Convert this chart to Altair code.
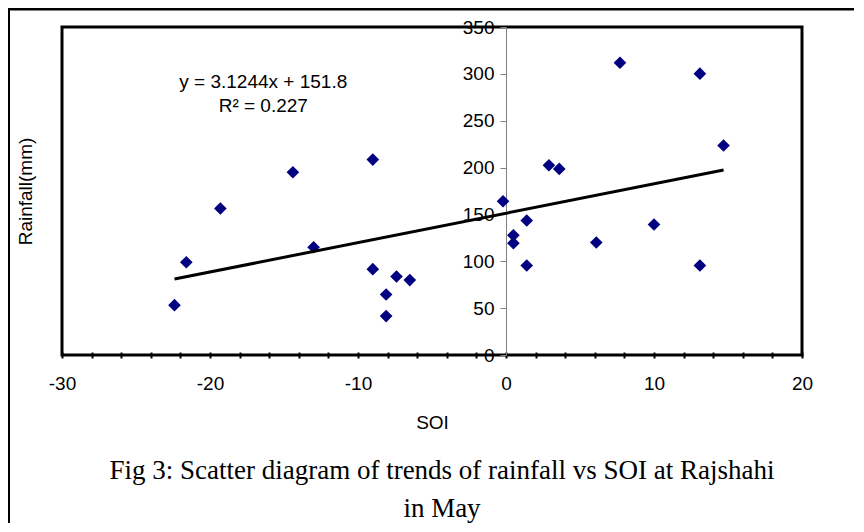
import altair as alt
import pandas as pd

# ---- data ----
soi = [-22.4, -21.6, -19.3, -14.4, -13.0, -9.0, -9.0, -8.1, -8.1, -7.4, -6.5,
       -0.2, 0.5, 0.5, 1.4, 1.4, 2.9, 3.6, 6.1, 7.7, 10.0, 13.1, 13.1, 14.7]
rain = [53.2, 99.0, 156.3, 195.0, 115.0, 208.5, 91.6, 64.6, 41.5, 83.8, 79.9,
        164.1, 127.8, 119.3, 143.5, 95.5, 202.5, 198.6, 120.0, 311.9, 139.2,
        300.2, 95.5, 223.5]
x_ticks = list(range(-30, 21, 2))
y_ticks = list(range(0, 351, 50))
eq_lines = ["y = 3.1244x + 151.8", "R² = 0.227"]
eq_x = [-16.4, -16.4]
eq_y = [291.0, 265.4]
caption = ["Fig 3: Scatter diagram of trends of rainfall vs SOI at Rajshahi", "in May"]

SANS = "Liberation Sans"
SERIF = "Liberation Serif"

df = pd.DataFrame({"SOI": soi, "Rain": rain})
xs = alt.Scale(domain=[-30, 20], nice=False, zero=False)
ys = alt.Scale(domain=[0, 350], nice=False)

x_axis = alt.Axis(
    values=x_ticks,
    labelExpr="datum.value % 10 == 0 ? toString(datum.value) : ''",
    labelOverlap=False, labelFlush=False, labelBound=False,
    domain=False, grid=False, offset=-3,
    tickSize=6, tickWidth=2, tickColor="black",
    labelPadding=16, labelFont=SANS, labelFontSize=19, labelColor="black",
    title="SOI", titleFont=SANS, titleFontSize=19, titleFontWeight="normal",
    titleColor="black", titleY=70, titleBaseline="middle",
)
y_axis = alt.Axis(
    values=y_ticks, offset=-444, grid=False, labelFlush=False, labelOverlap=False,
    domainColor="#808080", domainWidth=1,
    tickColor="#808080", tickSize=6, tickWidth=1,
    labelPadding=6, labelFont=SANS, labelFontSize=19, labelColor="black",
    title="Rainfall(mm)", titleFont=SANS, titleFontSize=19, titleFontWeight="normal",
    titleColor="black", titleX=-481, titleY=164, titleAngle=270,
    titleAlign="center", titleBaseline="middle",
)

points = alt.Chart(df).mark_point(
    shape="diamond", filled=True, color="#000080", size=160, opacity=1
).encode(
    x=alt.X("SOI:Q", scale=xs, axis=x_axis),
    y=alt.Y("Rain:Q", scale=ys, axis=y_axis),
)

trend = alt.Chart(df).transform_regression("SOI", "Rain").mark_line(
    color="black", strokeWidth=3
).encode(
    x=alt.X("SOI:Q", scale=xs, axis=x_axis),
    y=alt.Y("Rain:Q", scale=ys, axis=y_axis),
)

eq_df = pd.DataFrame({"SOI": eq_x, "Rain": eq_y, "t": eq_lines})
eq = alt.Chart(eq_df).mark_text(
    font=SANS, fontSize=19, align="center", baseline="middle", color="black"
).encode(
    x=alt.X("SOI:Q", scale=xs, axis=x_axis),
    y=alt.Y("Rain:Q", scale=ys, axis=y_axis),
    text="t:N",
)

frame_df = pd.DataFrame({"a": [0]})
frame_top = alt.Chart(frame_df).mark_rule(color="black", strokeWidth=3).encode(
    x=alt.value(-60), x2=alt.value(800), y=alt.value(-18)
)
frame_left = alt.Chart(frame_df).mark_rule(color="black", strokeWidth=2).encode(
    x=alt.value(-53), y=alt.value(-25), y2=alt.value(500)
)

chart = alt.layer(frame_top, frame_left, points, trend, eq).properties(
    width=740, height=328,
    autosize=alt.AutoSizeParams(type="none"),
    padding={"left": 54, "top": 19, "right": 52, "bottom": 168},
    title=alt.TitleParams(
        text=caption, orient="bottom", anchor="middle", font=SERIF,
        fontSize=27, fontWeight="normal", lineHeight=38, dx=10, offset=-70,
        color="black",
    ),
    background="white",
).configure_view(stroke="black", strokeWidth=3).configure_axisX(labelOverlap=False)

chart.save("out.html", embed_options={"renderer": "svg", "actions": False})
